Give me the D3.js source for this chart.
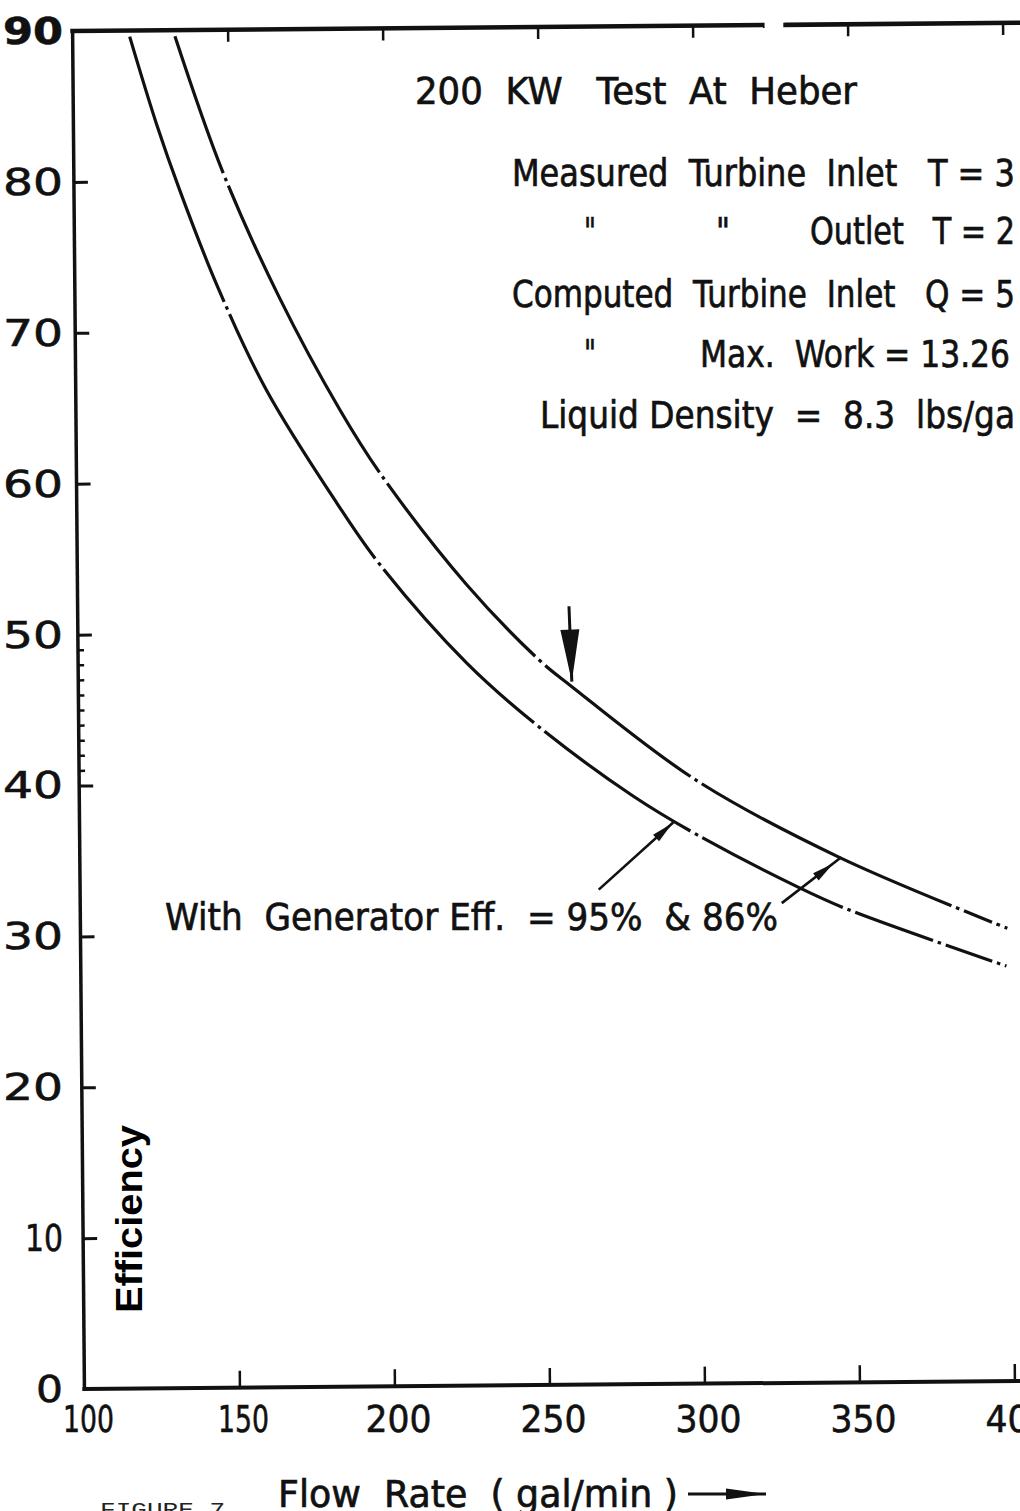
<!DOCTYPE html>
<html>
<head>
<meta charset="utf-8">
<script src="https://cdn.jsdelivr.net/npm/d3@7"></script>
<style>
  html, body { margin: 0; padding: 0; background: #fff; }
  svg { display: block; }
  text { white-space: pre; }
</style>
</head>
<body>
<svg id="chart" width="1020" height="1511"></svg>
<script>
// ---- axis ticks ----
const flowTicks = [100, 150, 200, 250, 300, 350, 400];
const effTicks = [0, 10, 20, 30, 40, 50, 60, 70, 80, 90];
const effMinorTicks = [41, 42, 43, 44, 45, 46, 47, 48, 49];

// ---- efficiency curves (flow gal/min, efficiency %) ----
const flow95 = [133, 148, 166, 185, 198, 225.5, 249, 259, 299, 345, 399];
const eff95  = [89.6, 80.6, 72.2, 64.8, 60.5, 53.1, 48.0, 46.3, 40.0, 34.8, 30.0];
const flow86 = [118.4, 126.8, 134.1, 146, 161.5, 183.8, 197.5, 225.3, 248.6, 278.5, 299, 332.1, 348.1, 398.6];
const eff86  = [89.6, 83.8, 79.4, 73.0, 66.1, 58.6, 54.5, 47.9, 43.6, 39.0, 36.4, 32.8, 31.3, 27.5];

// flow values where the drafted curves show a dash-dot break
const breaks95 = [149, 199, 249, 299, 383, 396];
const breaks86 = [149, 197.5, 248.6, 299, 348, 377, 396];

// ---- annotation arrows: [tailFlow, tailEff, tipFlow, tipEff] ----
const testPointArrow = [258.5, 51.6, 259.2, 46.6];
const label86Arrow   = [267.3, 32.8, 291.5, 37.2];
const label95Arrow   = [326.3, 31.8, 345.6, 34.8];

// ---- notes ----
const titleText = "200  KW   Test  At  Heber";
const noteLines = [
  "Measured  Turbine  Inlet   T = 3",
  "Outlet   T = 2",
  "Computed  Turbine  Inlet   Q = 5",
  "Max.  Work = 13.26",
  "Liquid Density  =  8.3  lbs/ga"
];
const curveLabel = "With  Generator Eff.  = 95%  & 86%";
const xTitle = "Flow  Rate  ( gal/min )";
const yTitle = "Efficiency";
const figureLabel = "FIGURE 7";

const W = 1020, H = 1511;
const ink = "#111";
const letterFont = "'DejaVu Sans', 'Noto Sans', sans-serif";

const x = d3.scaleLinear().domain([100, 400]).range([78.5, 1008.5]);
const y = d3.scaleLinear().domain([0, 90]).range([1385, 27]);

const root = d3.select("#chart");
root.append("rect").attr("width", W).attr("height", H).attr("fill", "#fff");
// the ruled grid sits slightly turned on the sheet
const svg = root.append("g").attr("transform", "rotate(-0.5, 545, 706)");

// ---- frame lines ----
const frame = svg.append("g").attr("stroke", ink).attr("stroke-linecap", "square").attr("fill", "none");
frame.append("line").attr("x1", x(100)).attr("x2", x(100)).attr("y1", y(90)).attr("y2", y(0)).attr("stroke-width", 3.5);
frame.append("line").attr("x1", x(100)).attr("x2", W + 20).attr("y1", y(0)).attr("y2", y(0)).attr("stroke-width", 4);
// top rule has a short break
frame.append("line").attr("x1", x(100)).attr("x2", x(322.5)).attr("y1", y(90)).attr("y2", y(90)).attr("stroke-width", 4.5);
frame.append("line").attr("x1", x(330)).attr("x2", W + 20).attr("y1", y(90)).attr("y2", y(90)).attr("stroke-width", 4.5);

// ---- tick marks via d3 axes ----
function tickStyle(g, w) {
  g.select(".domain").remove();
  g.selectAll("text").remove();
  g.selectAll(".tick line").attr("stroke", ink).attr("stroke-width", w);
}
svg.append("g").attr("transform", `translate(0,${y(0)})`)
  .call(d3.axisBottom(x).tickValues(flowTicks.slice(1)).tickSizeInner(-17).tickSizeOuter(0).tickFormat(""))
  .call(g => tickStyle(g, 2.5));
svg.append("g").attr("transform", `translate(0,${y(90)})`)
  .call(d3.axisTop(x).tickValues(flowTicks.slice(1)).tickSizeInner(-12).tickSizeOuter(0).tickFormat(""))
  .call(g => tickStyle(g, 2.5));
svg.append("g").attr("transform", `translate(${x(100)},0)`)
  .call(d3.axisLeft(y).tickValues(effTicks.slice(1, -1)).tickSizeInner(-14).tickSizeOuter(0).tickFormat(""))
  .call(g => tickStyle(g, 3));
svg.append("g").attr("transform", `translate(${x(100)},0)`)
  .call(d3.axisLeft(y).tickValues(effMinorTicks).tickSizeInner(-6).tickSizeOuter(0).tickFormat(""))
  .call(g => tickStyle(g, 2.5));

// ---- curves ----
const line = d3.line().x(d => x(d[0])).y(d => y(d[1])).curve(d3.curveCatmullRom.alpha(0.5));

function breakDash(path, breaks) {
  const node = path.node();
  const L = node.getTotalLength();
  const lens = breaks.map(b => {
    const tx = x(b);
    let lo = 0, hi = L;
    for (let i = 0; i < 40; i++) {
      const m = (lo + hi) / 2;
      if (node.getPointAtLength(m).x < tx) lo = m; else hi = m;
    }
    return (lo + hi) / 2;
  });
  const gap = 5, dot = 3.5;
  const arr = [];
  let pos = 0;
  lens.forEach(l => {
    const s = l - dot / 2 - gap;
    arr.push(Math.max(s - pos, 0.1), gap, dot, gap);
    pos = l + dot / 2 + gap;
  });
  arr.push(Math.max(L - pos, 0.1) + 20, 0.001);
  path.attr("stroke-dasharray", arr.join(" "));
}

[[flow95, eff95, breaks95], [flow86, eff86, breaks86]].forEach(([fx, ey, br]) => {
  const p = svg.append("path")
    .datum(fx.map((f, i) => [f, ey[i]]))
    .attr("d", line)
    .attr("fill", "none")
    .attr("stroke", ink)
    .attr("stroke-width", 3.2);
  breakDash(p, br);
});

// ---- arrows ----
function arrow(g, x1, y1, x2, y2, headLen, headW, back, width) {
  const dx = x2 - x1, dy = y2 - y1, len = Math.hypot(dx, dy);
  const ux = dx / len, uy = dy / len;
  const tipX = x2 - ux * back, tipY = y2 - uy * back;
  const bx = tipX - ux * headLen, by = tipY - uy * headLen;
  g.append("line").attr("x1", x1).attr("y1", y1).attr("x2", x2).attr("y2", y2)
    .attr("stroke", ink).attr("stroke-width", width);
  g.append("path")
    .attr("d", `M${tipX},${tipY}L${bx - uy * headW / 2},${by + ux * headW / 2}L${bx + uy * headW / 2},${by - ux * headW / 2}Z`)
    .attr("fill", ink);
}
const arrows = svg.append("g");
{
  const a = testPointArrow;
  arrow(arrows, x(a[0]), y(a[1]), x(a[2]), y(a[3]), 52, 19, 0, 3);
}
{
  const a = label86Arrow;
  arrow(arrows, x(a[0]), y(a[1]), x(a[2]), y(a[3]), 22, 9, 1, 2.6);
}
{
  const a = label95Arrow;
  arrow(arrows, x(a[0]), y(a[1]), x(a[2]), y(a[3]), 22, 9, 10, 2.6);
}

// ---- lettering (set square to the page) ----
function labelWidth(s, digitW, oneW, gap) {
  let w = 0;
  for (const c of s) w += (c === "1" ? oneW : digitW);
  return w + gap * (s.length - 1);
}
root.append("g").selectAll("text").data(flowTicks).join("text")
  .attr("x", d => x(d) + 10)
  .attr("y", 1432)
  .attr("text-anchor", "middle")
  .attr("font-family", letterFont)
  .attr("font-size", 37)
  .attr("fill", ink)
  .attr("stroke", ink).attr("stroke-width", 0.6)
  .attr("lengthAdjust", "spacingAndGlyphs")
  .attr("textLength", d => labelWidth(String(d), 20, 5, 3))
  .text(d => d);

root.append("g").selectAll("text").data(effTicks).join("text")
  .attr("x", 63)
  .attr("y", d => y(d) + 17)
  .attr("text-anchor", "end")
  .attr("font-family", letterFont)
  .attr("font-size", 37)
  .attr("font-weight", d => d === 90 ? "bold" : "normal")
  .attr("fill", ink)
  .attr("stroke", ink).attr("stroke-width", 0.6)
  .attr("lengthAdjust", "spacingAndGlyphs")
  .attr("textLength", d => labelWidth(String(d), 27, 5, 6))
  .text(d => d);

function letter(txt, px, py, len, size) {
  const t = root.append("text")
    .attr("x", px).attr("y", py)
    .attr("font-family", letterFont)
    .attr("font-size", size || 37)
    .attr("fill", ink)
    .attr("stroke", ink).attr("stroke-width", 0.7)
    .text(txt);
  if (len) t.attr("textLength", len).attr("lengthAdjust", "spacingAndGlyphs");
  return t;
}
letter(titleText, 415, 104, 442);
letter(noteLines[0], 512, 186, 503);
letter("\"", 584, 244, 12);
letter("\"", 716, 244, 14);
letter(noteLines[1], 810, 244, 205);
letter(noteLines[2], 512, 307, 503);
letter("\"", 584, 366, 12);
letter(noteLines[3], 700, 367, 310);
letter(noteLines[4], 540, 428, 475);
letter(curveLabel, 165, 930, 613);

const xt = letter(xTitle, 278, 1507, 400);
{
  const bb = xt.node().getBBox();
  const yMid = 1494;
  arrow(root.append("g"), bb.x + bb.width + 10, yMid, bb.x + bb.width + 88, yMid, 40, 11, 0, 3);
}

root.append("text")
  .attr("x", 100).attr("y", 1516)
  .attr("font-family", "'Liberation Mono', 'DejaVu Sans Mono', monospace")
  .attr("font-size", 20)
  .attr("fill", "#222")
  .attr("textLength", 125)
  .attr("lengthAdjust", "spacingAndGlyphs")
  .text(figureLabel);

root.append("text")
  .attr("transform", "translate(142,1313) rotate(-90)")
  .attr("font-family", "'Liberation Sans', Arial, sans-serif")
  .attr("font-weight", "bold")
  .attr("font-size", 37)
  .attr("fill", "#000")
  .attr("textLength", 188)
  .attr("lengthAdjust", "spacingAndGlyphs")
  .text(yTitle);
</script>
</body>
</html>
